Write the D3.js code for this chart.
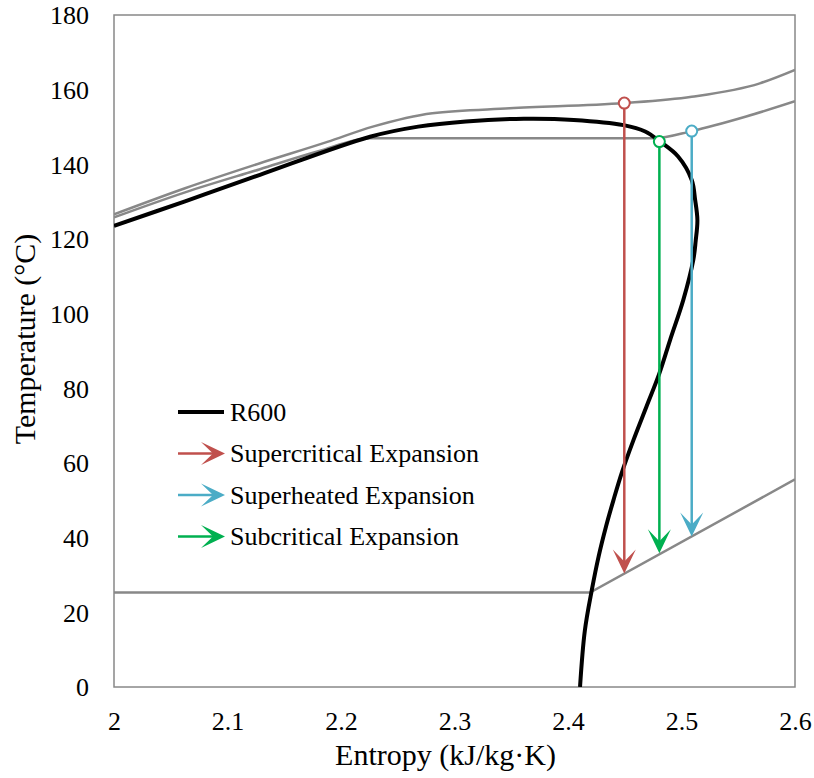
<!DOCTYPE html>
<html>
<head>
<meta charset="utf-8">
<script src="https://cdn.jsdelivr.net/npm/d3@7"></script>
</head>
<body style="margin:0">
<svg id="chart" width="814" height="778"></svg>
<script>
// ---- Data ----
const xTicks = [2, 2.1, 2.2, 2.3, 2.4, 2.5, 2.6];
const xTickLabels = ["2", "2.1", "2.2", "2.3", "2.4", "2.5", "2.6"];
const yTicks = [0, 20, 40, 60, 80, 100, 120, 140, 160, 180];
const yTickLabels = ["0", "20", "40", "60", "80", "100", "120", "140", "160", "180"];

// R600 saturation dome (entropy, temperature)
const r600S = [2.000, 2.0626, 2.1286, 2.2256, 2.268, 2.310, 2.361, 2.405, 2.449, 2.468, 2.481, 2.497, 2.509, 2.512, 2.514, 2.5125, 2.5104, 2.5016, 2.490, 2.4805, 2.469, 2.4575, 2.4475, 2.440, 2.4335, 2.427, 2.421, 2.4148, 2.4106];
const r600T = [123.5, 130.1, 137.2, 147.4, 150.1, 151.5, 152.2, 151.9, 150.5, 148.8, 146.1, 142.1, 135.8, 130.5, 125.1, 119.5, 114.4, 103.7, 93.0, 84.0, 75.0, 66.0, 57.5, 50.0, 43.0, 35.0, 26.0, 15.0, 0.0];

// Supercritical isobar
const highPS = [2.000, 2.0626, 2.1286, 2.188, 2.228, 2.2805, 2.3486, 2.4496, 2.509, 2.569, 2.600];
const highPT = [126.6, 133.6, 140.3, 146.0, 150.1, 153.7, 155.0, 156.4, 158.1, 161.7, 165.3];

// Subcritical evaporating isobar
const lowPS = [2.000, 2.0626, 2.1286, 2.180, 2.2256, 2.476, 2.509, 2.557, 2.600];
const lowPT = [125.8, 132.5, 138.7, 143.5, 147.0, 147.0, 148.9, 152.8, 156.9];

// Condensing isobar
const condS = [2.000, 2.4194, 2.600];
const condT = [25.3, 25.3, 55.6];

// Expansion processes
const expNames = ["Supercritical Expansion", "Superheated Expansion", "Subcritical Expansion"];
const expColors = ["#C0504D", "#4BACC6", "#00B050"];
const expS = [2.4496, 2.509, 2.4805];
const expT0 = [156.4, 148.9, 146.1];
const expT1 = [30.4, 40.3, 35.8];

const legendNames = ["R600"].concat(expNames);

// ---- Layout ----
const W = 814, H = 778;
const margin = { left: 114, top: 15, right: 19, bottom: 91 };
const pw = W - margin.left - margin.right;
const ph = H - margin.top - margin.bottom;
const FONT = '"Liberation Serif"';

const svg = d3.select("#chart");
const x = d3.scaleLinear().domain([2, 2.6]).range([margin.left, margin.left + pw]);
const y = d3.scaleLinear().domain([0, 180]).range([margin.top + ph, margin.top]);

const gray = "#888888";

svg.append("defs").append("clipPath").attr("id", "clip")
  .append("rect").attr("x", margin.left).attr("y", margin.top).attr("width", pw).attr("height", ph);

// Plot border
svg.append("rect")
  .attr("x", margin.left).attr("y", margin.top).attr("width", pw).attr("height", ph)
  .attr("fill", "none").attr("stroke", gray).attr("stroke-width", 1.5);

// Axes (labels only)
const xAxis = d3.axisBottom(x).tickValues(xTicks).tickFormat((d, i) => xTickLabels[i]).tickSize(0).tickPadding(0);
const gx = svg.append("g").attr("transform", `translate(0,${margin.top + ph})`).call(xAxis);
gx.attr("font-family", FONT).attr("font-size", 26);
gx.select(".domain").remove();
gx.selectAll("text").attr("font-family", FONT).attr("font-size", 26).attr("fill", "#000").attr("dy", null).attr("y", 43);

const yAxis = d3.axisLeft(y).tickValues(yTicks).tickFormat((d, i) => yTickLabels[i]).tickSize(0).tickPadding(0);
const gy = svg.append("g").attr("transform", `translate(${margin.left},0)`).call(yAxis);
gy.attr("font-family", FONT).attr("font-size", 26);
gy.select(".domain").remove();
gy.selectAll("text").attr("font-family", FONT).attr("font-size", 26).attr("fill", "#000").attr("x", -25).attr("dy", "0.34em");

// Axis titles
svg.append("text").attr("x", margin.left + pw / 2 - 9).attr("y", 765).attr("text-anchor", "middle")
  .attr("font-family", FONT).attr("font-size", 30).text("Entropy (kJ/kg·K)");
svg.append("text").attr("transform", `translate(35,${339}) rotate(-90)`).attr("text-anchor", "middle")
  .attr("font-family", FONT).attr("font-size", 30).text("Temperature (°C)");

const plot = svg.append("g").attr("clip-path", "url(#clip)");

const lineMono = d3.line().x(d => x(d[0])).y(d => y(d[1])).curve(d3.curveMonotoneX);
const lineCR = d3.line().x(d => x(d[0])).y(d => y(d[1])).curve(d3.curveCatmullRom.alpha(0.5));
const lineLin = d3.line().x(d => x(d[0])).y(d => y(d[1]));

const zip = (a, b) => a.map((v, i) => [v, b[i]]);

plot.append("path").datum(zip(highPS, highPT)).attr("d", lineMono)
  .attr("fill", "none").attr("stroke", gray).attr("stroke-width", 2.5);
plot.append("path").datum(zip(lowPS, lowPT)).attr("d", lineMono)
  .attr("fill", "none").attr("stroke", gray).attr("stroke-width", 2.5);
plot.append("path").datum(zip(condS, condT)).attr("d", lineLin)
  .attr("fill", "none").attr("stroke", gray).attr("stroke-width", 2.5);

plot.append("path").datum(zip(r600S, r600T)).attr("d", lineCR)
  .attr("fill", "none").attr("stroke", "#000").attr("stroke-width", 4)
  .attr("stroke-linejoin", "round");

// Arrowhead shape (tip at origin, pointing +x)
function headPath(len, half, notch) {
  return `M0,0 L${-len},${-half} L${-len + notch},0 L${-len},${half} Z`;
}

// Expansion arrows
expS.forEach((s, i) => {
  const g = plot.append("g");
  const xs = x(s), y0 = y(expT0[i]), y1 = y(expT1[i]);
  g.append("line").attr("x1", xs).attr("x2", xs).attr("y1", y0).attr("y2", y1 - 10)
    .attr("stroke", expColors[i]).attr("stroke-width", 2.5);
  g.append("path").attr("d", headPath(24, 11.5, 12))
    .attr("transform", `translate(${xs},${y1}) rotate(90)`)
    .attr("fill", expColors[i]);
});
expS.forEach((s, i) => {
  svg.append("circle").attr("cx", x(s)).attr("cy", y(expT0[i])).attr("r", 5.5)
    .attr("fill", "#fff").attr("stroke", expColors[i]).attr("stroke-width", 2);
});

// Legend
const lgX = 178, lgY = 412, lgStep = 41.5;
const lg = svg.append("g");
legendNames.forEach((name, i) => {
  const yy = lgY + i * lgStep;
  if (i === 0) {
    lg.append("line").attr("x1", lgX).attr("x2", lgX + 46).attr("y1", yy).attr("y2", yy)
      .attr("stroke", "#000").attr("stroke-width", 4);
  } else {
    const c = expColors[i - 1];
    lg.append("line").attr("x1", lgX).attr("x2", lgX + 36).attr("y1", yy).attr("y2", yy)
      .attr("stroke", c).attr("stroke-width", 2.5);
    lg.append("path").attr("d", headPath(24, 11.5, 12))
      .attr("transform", `translate(${lgX + 47},${yy})`).attr("fill", c);
  }
  lg.append("text").attr("x", lgX + 52).attr("y", yy + 8.5)
    .attr("font-family", FONT).attr("font-size", 26).text(name);
});
</script>
</body>
</html>
